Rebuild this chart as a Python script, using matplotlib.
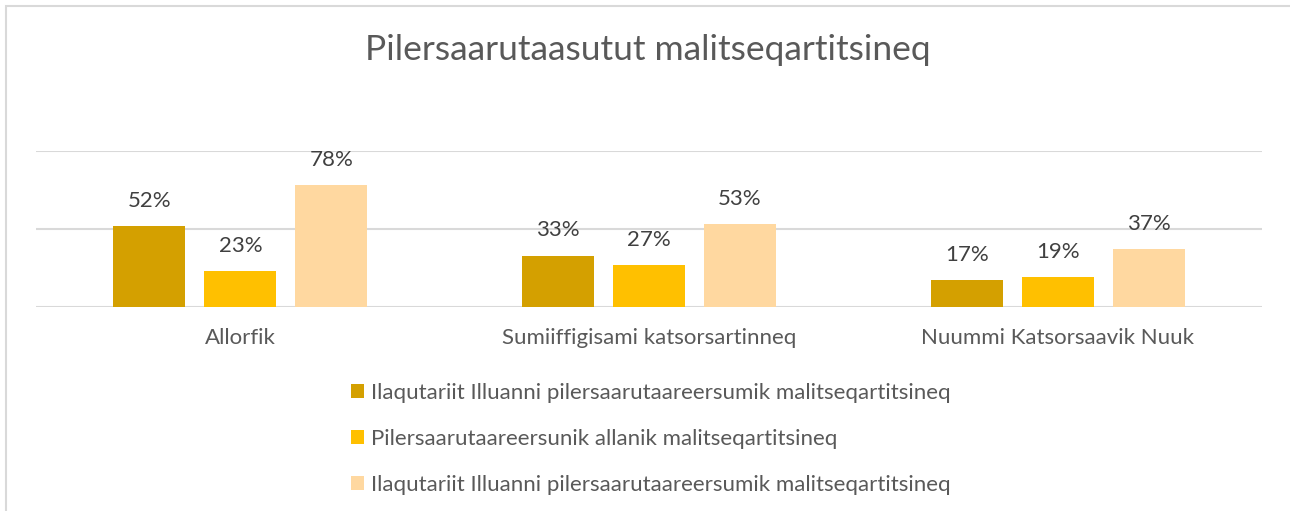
import numpy as np
import matplotlib
matplotlib.use("Agg")
import matplotlib.pyplot as plt
from matplotlib.patches import Rectangle

plt.rcParams["font.family"] = ["Lato", "DejaVu Sans"]

# values
categories = ["Allorfik", "Sumiiffigisami katsorsartinneq", "Nuummi Katsorsaavik Nuuk"]
series_names = [
    "Ilaqutariit Illuanni pilersaarutaareersumik malitseqartitsineq",
    "Pilersaarutaareersunik allanik malitseqartitsineq",
    "Ilaqutariit Illuanni pilersaarutaareersumik malitseqartitsineq",
]
values_a = [0.52, 0.33, 0.17]
values_b = [0.23, 0.27, 0.19]
values_c = [0.78, 0.53, 0.37]

colors = ["#D4A000", "#FFC000", "#FFD8A0"]
GRID = "#D9D9D9"
TXT = "#404040"

W, H = 1290, 511
fig = plt.figure(figsize=(W / 100, H / 100), dpi=100)

# chart frame
fig.patches.append(Rectangle((6 / W, -0.1), 1.2, 1 - 6 / H + 0.1,
                             transform=fig.transFigure, fill=False,
                             edgecolor=GRID, lw=1.5, zorder=0))

ax = fig.add_axes([36 / W, 1 - 307 / H, (1262 - 36) / W, (307 - 151) / H])
ax.set_xlim(-0.5, 2.5)
ax.set_ylim(0, 1)
for s in ax.spines.values():
    s.set_visible(False)
ax.set_yticks([0, 0.5, 1.0])
ax.set_yticklabels([])
ax.tick_params(axis="y", length=0)
ax.grid(axis="y", color=GRID, lw=1.5)
ax.set_axisbelow(True)

x = np.arange(len(categories))
bw = 0.176
step = 0.2225
containers = []
for i, (vals, col, name) in enumerate(zip([values_a, values_b, values_c], colors, series_names)):
    bc = ax.bar(x + (i - 1) * step, vals, bw, color=col, label=name, zorder=2)
    containers.append(bc)
    for xi, v in zip(x + (i - 1) * step, vals):
        ax.annotate(f"{v * 100:.0f}%", (xi, v), xytext=(0, 11), textcoords="offset points",
                    ha="center", va="bottom", fontsize=16, color=TXT, annotation_clip=False)

ax.set_xticks(x)
ax.set_xticklabels(categories, fontsize=16, color="#595959")
ax.tick_params(axis="x", length=0, pad=15)

fig.text(0.502, 1 - 50 / H, "Pilersaarutaasutut malitseqartitsineq", ha="center", va="center",
         fontsize=25.5, color="#595959")

fig.legend(handles=containers, labels=series_names, loc="upper left",
           bbox_to_anchor=(342 / W, 1 - 374 / H), frameon=False, fontsize=16,
           labelcolor="#595959", handlelength=0.6, handleheight=0.6,
           handletextpad=0.3, labelspacing=1.17, borderaxespad=0)

fig.savefig("out.png", dpi=100)
